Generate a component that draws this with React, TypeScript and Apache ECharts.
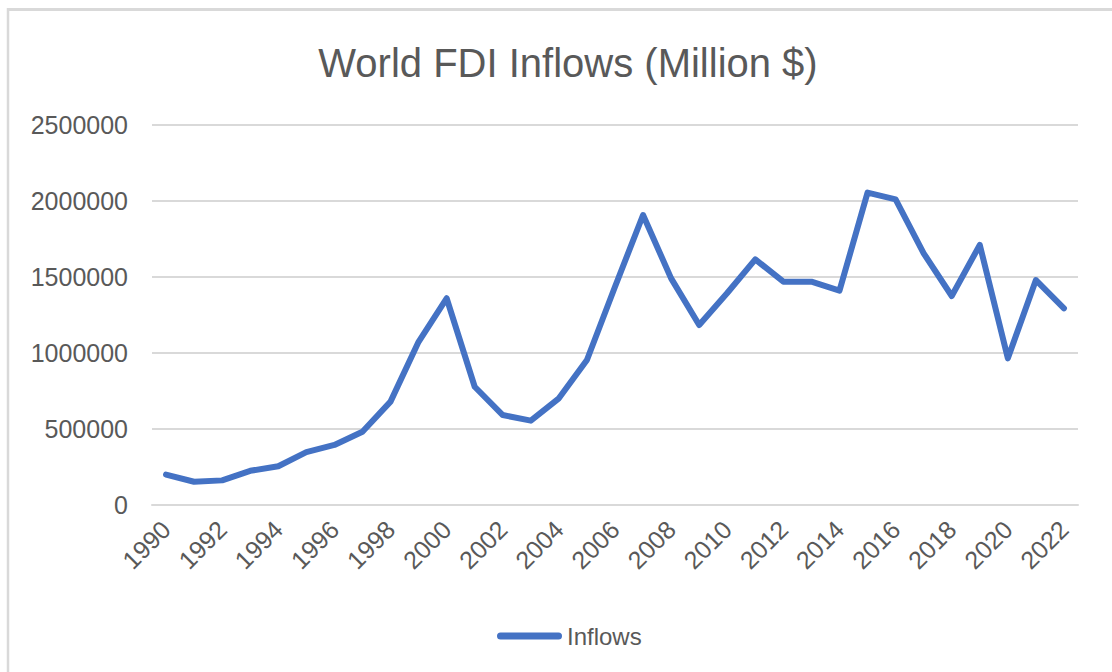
import React, { useEffect, useRef } from "react";
import * as echarts from "echarts";

const years: string[] = [
  "1990", "1991", "1992", "1993", "1994", "1995", "1996", "1997", "1998", "1999",
  "2000", "2001", "2002", "2003", "2004", "2005", "2006", "2007", "2008", "2009",
  "2010", "2011", "2012", "2013", "2014", "2015", "2016", "2017", "2018", "2019",
  "2020", "2021", "2022",
];

const inflows: number[] = [
  200000, 153000, 162000, 225000, 255000, 348000, 395000, 482000, 680000, 1074000,
  1360000, 778000, 592000, 555000, 702000, 954000, 1436000, 1908000, 1491000, 1184000,
  1395000, 1616000, 1469000, 1469000, 1410000, 2055000, 2011000, 1656000, 1375000, 1711000,
  965000, 1480000, 1294000,
];

const yTicks = { min: 0, max: 2500000, interval: 500000 };

const TEXT = "#595959";
const GRID = "#d9d9d9";
const BLUE = "#4472C4";
const FONT = "Liberation Sans";

export default function App() {
  const ref = useRef<HTMLDivElement>(null);

  useEffect(() => {
    document.body.style.margin = "0";
    if (!ref.current) return;
    const chart = echarts.init(ref.current, null, { renderer: "svg" });
    chart.setOption({
      animation: false,
      backgroundColor: "#ffffff",
      title: {
        text: "World FDI Inflows (Million $)",
        left: 563,
        textAlign: "center",
        top: 38,
        textStyle: { fontFamily: FONT, fontSize: 40, fontWeight: "normal", color: TEXT },
      },
      graphic: [
        { type: "line", shape: { x1: 7, y1: 9.5, x2: 1112, y2: 9.5 }, style: { stroke: GRID, lineWidth: 3 } },
        { type: "line", shape: { x1: 8, y1: 8, x2: 8, y2: 672 }, style: { stroke: GRID, lineWidth: 2.5 } },
      ],
      grid: { left: 152, right: 34, top: 125, bottom: 167, containLabel: false },
      legend: {
        data: [{ name: "Inflows", icon: "path://M3.5,0 L61.5,0 A3.5,3.5 0 0 1 61.5,7 L3.5,7 A3.5,3.5 0 0 1 3.5,0 Z" }],
        left: 492,
        top: 619,
        itemWidth: 65,
        itemHeight: 7,
        textStyle: { fontFamily: FONT, fontSize: 24, color: TEXT },
        itemStyle: { color: BLUE },
      },
      xAxis: {
        type: "category",
        data: years,
        boundaryGap: true,
        axisLine: { show: true, lineStyle: { color: GRID, width: 2 } },
        axisTick: { show: false },
        axisLabel: {
          interval: 1,
          rotate: 45,
          margin: 20,
          fontFamily: FONT,
          fontSize: 25,
          color: TEXT,
        },
      },
      yAxis: {
        type: "value",
        min: yTicks.min,
        max: yTicks.max,
        interval: yTicks.interval,
        axisLine: { show: false },
        axisTick: { show: false },
        splitLine: { show: true, lineStyle: { color: GRID, width: 2 } },
        axisLabel: {
          margin: 24,
          fontFamily: FONT,
          fontSize: 25,
          color: TEXT,
          formatter: (v: number) => String(v),
        },
      },
      series: [
        {
          name: "Inflows",
          type: "line",
          data: inflows,
          showSymbol: false,
          symbol: "none",
          lineStyle: { color: BLUE, width: 6, cap: "round", join: "round" },
          itemStyle: { color: BLUE },
        },
      ],
    });
    return () => chart.dispose();
  }, []);

  return <div ref={ref} style={{ width: 1112, height: 672 }} />;
}
